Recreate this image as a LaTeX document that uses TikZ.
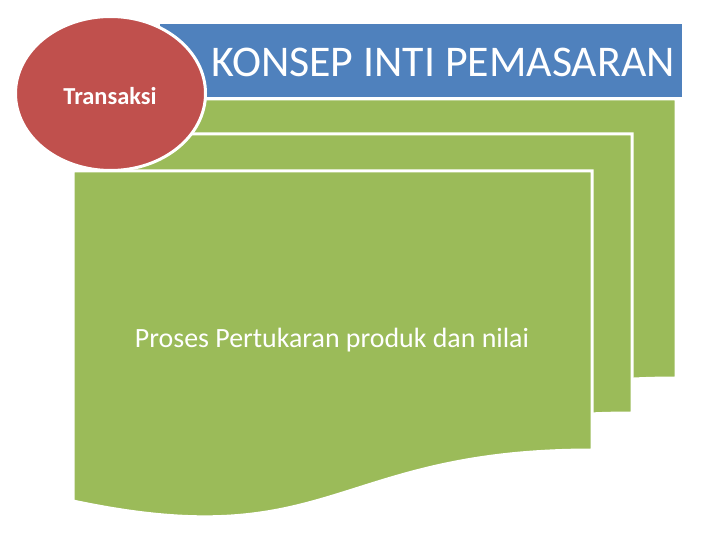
\documentclass[tikz,border=0pt]{standalone}
\usepackage{fontspec}
\setmainfont{Carlito}
\definecolor{pblue}{HTML}{4F81BD}
\definecolor{pgreen}{HTML}{9BBB59}
\definecolor{pred}{HTML}{C0504D}
\tikzset{
  docshape/.style={fill=pgreen, draw=white, line width=3bp, line join=miter},
  wtext/.style={text=white, inner sep=0pt}
}
\newcommand{\docpath}[3]{% left x, top y, right x ; height 350
  \path[docshape] (#1,#2) -- (#3,#2) -- (#3,#2+279)
    .. controls ({(#1+#3)/2},#2+279) and ({(#1+#3)/2},#2+385) .. (#1,#2+330) -- cycle;}
\begin{document}
\begin{tikzpicture}[x=1bp,y=-1bp]
\useasboundingbox (0,0) rectangle (720,540);
\fill[white] (0,0) rectangle (720,540);
% stacked documents
\docpath{157}{99}{676}
\docpath{115}{134}{632}
\docpath{73}{171}{592}
% title bar
\fill[pblue] (160,24) rectangle (682,97);
\node[wtext, font=\fontsize{44}{52}\selectfont] (title) at (443,62) {KONSEP INTI PEMASARAN};
% circle
\path[fill=pred, draw=white, line width=3bp] (110.5,93.5) ellipse [x radius=95, y radius=77];
\node[wtext, font=\fontsize{24.5}{29}\selectfont\bfseries] (trans) at (110,96) {Transaksi};
\node[wtext, font=\fontsize{28}{34}\selectfont] (desc) at (332,340) {Proses Pertukaran produk dan nilai};
\end{tikzpicture}
\end{document}
